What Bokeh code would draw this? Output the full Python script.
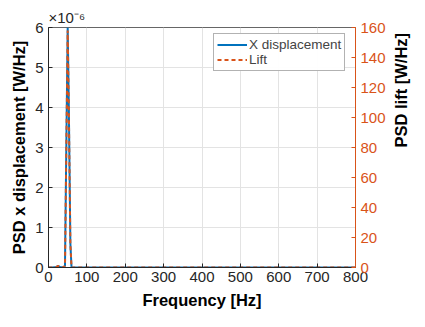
import math
from bokeh.plotting import figure
from bokeh.models import Range1d, LinearAxis, Legend, LegendItem, CustomJSTickFormatter, FixedTicker
from bokeh.embed import file_html
from bokeh.resources import INLINE

# Data
freq = [0, 10, 20, 25, 30, 40, 43, 47, 50, 53, 57, 60, 70, 100, 200, 300, 400, 500, 600, 700, 800]
x_disp = [0, 0, 0.01e-6, 0.04e-6, 0.01e-6, 0, 0.05e-6, 3.5e-6, 6.0e-6, 4.0e-6, 0.6e-6, 0, 0, 0, 0, 0, 0, 0, 0, 0, 0]
lift = [0, 0, 0.3, 1.0, 0.3, 0, 1.5, 92, 158, 105, 16, 0, 0, 0, 0, 0, 0, 0, 0, 0, 0]

x_ticks = [0, 100, 200, 300, 400, 500, 600, 700, 800]
left_ticks = [0, 1e-6, 2e-6, 3e-6, 4e-6, 5e-6, 6e-6]
right_ticks = [0, 20, 40, 60, 80, 100, 120, 140, 160]

BLUE = "#0072BD"
ORANGE = "#D95319"
DARK = "#262626"
FONT = "Liberation Sans"
TICK_FS = "15px"
LAB_FS = "16.5px"

p = figure(width=425, height=327, output_backend="svg", toolbar_location=None,
           x_range=Range1d(0, 800), y_range=Range1d(0, 6e-6),
           min_border_left=48, min_border_right=70, min_border_top=27, min_border_bottom=60)
p.extra_y_ranges = {"lift": Range1d(0, 160)}
p.outline_line_color = "#666666"
p.background_fill_color = "white"
p.border_fill_color = "white"

p.title.text = "×10⁻⁶"
p.title.text_font = FONT
p.title.text_font_size = TICK_FS
p.title.text_font_style = "normal"
p.title.text_color = DARK
p.title.align = "left"
p.title.offset = 0
p.title.standoff = 4

l1 = p.line(freq, x_disp, line_color=BLUE, line_width=2)
l2 = p.line(freq, lift, y_range_name="lift", line_color=ORANGE, line_width=2, line_dash="4 3")

p.xaxis.ticker = FixedTicker(ticks=x_ticks)
p.yaxis.ticker = FixedTicker(ticks=left_ticks)
p.yaxis.formatter = CustomJSTickFormatter(code="return (tick*1e6).toFixed(0);")

for ax in [p.xaxis[0], p.yaxis[0]]:
    ax.axis_line_color = DARK
    ax.major_tick_line_color = DARK
    ax.major_tick_in = 4
    ax.major_tick_out = 0
    ax.minor_tick_line_color = None
    ax.major_label_text_font = FONT
    ax.major_label_text_font_size = TICK_FS
    ax.major_label_text_color = DARK
    ax.axis_label_text_font = FONT
    ax.axis_label_text_font_size = LAB_FS
    ax.axis_label_text_font_style = "bold"
    ax.axis_label_text_color = "black"

p.xaxis.axis_label = "Frequency [Hz]"
p.yaxis.axis_label = "PSD x displacement [W/Hz]"
p.xaxis.axis_label_standoff = 6
p.yaxis.axis_label_standoff = 4
p.xaxis.major_label_standoff = 4
p.yaxis.major_label_standoff = 5

ra = LinearAxis(y_range_name="lift", ticker=FixedTicker(ticks=right_ticks),
                axis_label="PSD lift [W/Hz]")
ra.axis_line_color = ORANGE
ra.major_tick_line_color = ORANGE
ra.major_tick_in = 4
ra.major_tick_out = 0
ra.minor_tick_line_color = None
ra.major_label_text_color = ORANGE
ra.major_label_text_font = FONT
ra.major_label_text_font_size = TICK_FS
ra.major_label_standoff = 5
ra.axis_label_text_font = FONT
ra.axis_label_text_font_size = LAB_FS
ra.axis_label_text_font_style = "bold"
ra.axis_label_text_color = "black"
ra.axis_label_standoff = 12
if "axis_label_orientation" in ra.properties():
    ra.axis_label_orientation = math.pi / 2
p.add_layout(ra, "right")

p.xgrid.grid_line_color = "#e3e3e3"
p.ygrid.grid_line_color = "#e3e3e3"

legend = Legend(items=[LegendItem(label="X displacement", renderers=[l1]),
                       LegendItem(label="Lift", renderers=[l2])],
                location=(165, 196), label_text_font=FONT, label_text_font_size="13.5px",
                border_line_color="#666666", padding=3, spacing=0, margin=0,
                glyph_width=30, glyph_height=15, label_height=15, label_standoff=2)
p.add_layout(legend)

open("out.html", "w").write(file_html(p, INLINE))
